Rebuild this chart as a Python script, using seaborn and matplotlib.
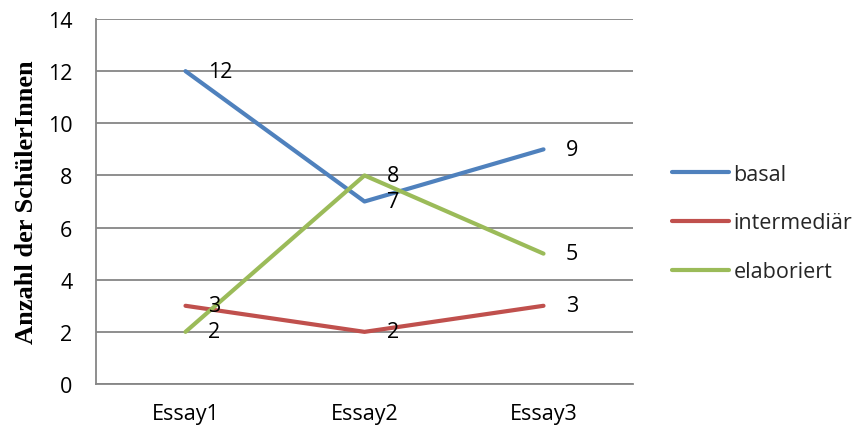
import matplotlib
matplotlib.use("Agg")
import matplotlib.pyplot as plt
import seaborn as sns
import pandas as pd

essays = ["Essay1", "Essay2", "Essay3"]
basal = [12, 7, 9]
intermediaer = [3, 2, 3]
elaboriert = [2, 8, 5]
series_names = ["basal", "intermediär", "elaboriert"]
y_ticks = [0, 2, 4, 6, 8, 10, 12, 14]

colors = {"basal": "#4F81BD", "intermediär": "#C0504D", "elaboriert": "#9BBB59"}

df = pd.DataFrame({
    "Essay": essays * 3,
    "Anzahl": basal + intermediaer + elaboriert,
    "Niveau": [n for n in series_names for _ in essays],
})

sns.set_theme(style="white")
plt.rcParams["font.family"] = ["Open Sans", "DejaVu Sans"]

fig = plt.figure(figsize=(8.62, 4.35), dpi=100)
ax = fig.add_axes([96 / 862, 1 - 385 / 435, (633 - 96) / 862, (385 - 20) / 435])

sns.lineplot(data=df, x="Essay", y="Anzahl", hue="Niveau", palette=colors,
             hue_order=series_names, linewidth=3.0, ax=ax, legend=False,
             sort=False)
for line in ax.lines:
    line.set_solid_capstyle("round")

# value labels to the right of each point
for name in series_names:
    sub = df[df["Niveau"] == name]
    for i, (_, row) in enumerate(sub.iterrows()):
        ax.annotate(str(row["Anzahl"]), xy=(i, row["Anzahl"]),
                    xytext=(16, 0), textcoords="offset points",
                    ha="left", va="center", fontsize=15.5, color="#000000")

ax.set_xlim(-0.5, 2.5)
ax.set_ylim(0, 14)
ax.set_yticks(y_ticks)
ax.set_xticks(range(len(essays)))
ax.set_xticklabels(essays)
ax.yaxis.grid(True, color="#868686", linewidth=1.3)
ax.set_axisbelow(True)
for s in ["top", "right"]:
    ax.spines[s].set_visible(False)
for s in ["left", "bottom"]:
    ax.spines[s].set_color("#868686")
    ax.spines[s].set_linewidth(1.3)
ax.tick_params(axis="y", length=0, pad=17, labelsize=15.5, colors="#000000")
ax.tick_params(axis="x", length=0, pad=14, labelsize=15.5, colors="#000000")
ax.set_xlabel("")
ax.set_ylabel("Anzahl der SchülerInnen", family=["Liberation Serif"],
              fontweight="bold", fontsize=19, color="#000000")
ax.yaxis.set_label_coords((38 - 96) / 537, 0.5)

handles = [plt.Line2D([], [], color=colors[n], linewidth=3.0,
                      solid_capstyle="round") for n in series_names]
fig.legend(handles, series_names, loc="center left",
           bbox_to_anchor=(672 / 862, 1 - 224 / 435), frameon=False,
           borderpad=0, borderaxespad=0, handlelength=2.65,
           handletextpad=0.2, labelspacing=1.3, fontsize=15.5)

fig.savefig("out.png", dpi=100)
